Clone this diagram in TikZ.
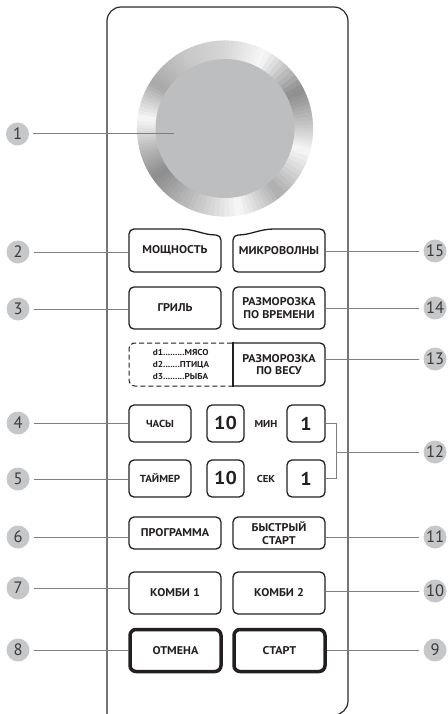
\documentclass[tikz,border=0pt]{standalone}
\usepackage{fontspec}
\setmainfont{PT Sans}
\newfontfamily\btnfont{PT Sans Bold}[FakeStretch=1.08]
\definecolor{ink}{HTML}{231F20}
\definecolor{panelc}{HTML}{2B2B2B}
\definecolor{leadc}{HTML}{7F7F7F}
\definecolor{lblfill}{HTML}{C6C7C9}
\definecolor{lbltxt}{HTML}{3A3A3A}
\definecolor{knobc}{HTML}{BDBEC0}
\tikzset{
  btn/.style={draw=ink, line width=1.3pt, rounded corners=5pt, text=ink,
    font=\btnfont\fontsize{11.2}{12.5}\selectfont, align=center, inner sep=0pt},
  narrowbtn/.style={btn, font=\btnfont\fontsize{10.2}{12}\selectfont},
  btnshape/.style={draw=ink, line width=1.3pt, rounded corners=5pt},
  btnbox/.style={btn, draw=none},
  bigbtn/.style={btn, line width=3.5pt, rounded corners=6pt},
  numbox/.style={btn, minimum width=37pt, minimum height=37pt,
    font=\btnfont\fontsize{18.5}{18}\selectfont},
  unitlbl/.style={text=ink, font=\btnfont\fontsize{10}{10}\selectfont, inner sep=0pt},
  lbl/.style={circle, fill=lblfill, minimum size=23pt, inner sep=0pt, text=lbltxt,
    font=\fontsize{16.5}{16}\selectfont},
  leader/.style={draw=leadc, line width=1pt},
  panel/.style={draw=panelc, line width=1.2pt},
  smalltxt/.style={text=ink, font=\btnfont\fontsize{8.6}{12}\selectfont, align=left, inner sep=0pt},
}
\begin{document}
\begin{tikzpicture}[x=1pt, y=-1pt]
\useasboundingbox (0,0) rectangle (447,714);
% panel
\draw[panel, rounded corners=14pt] (107,718) -- (107,7) -- (348,7) -- (348,715) -- (320,715);
% knob ring
\begin{scope}[shift={(225,128.5)}, yscale=-1]
  \foreach \a/\ga/\b/\gb in {0/80/27/55, 27/55/62/97, 62/97/90/84, 90/84/120/78,
     120/78/148/66, 148/66/173/97, 173/97/195/72, 195/72/215/55, 215/55/245/74,
     245/74/280/97, 280/97/310/68, 310/68/345/97, 345/97/360/80}{
    \foreach \i in {0,...,9}{
      \pgfmathsetmacro{\sa}{\a+(\b-\a)*\i/10}
      \pgfmathsetmacro{\ma}{\a+(\b-\a)*(\i+0.5)/10}
      \pgfmathsetmacro{\ea}{\a+(\b-\a)*(\i+1)/10+0.5}
      \pgfmathsetmacro{\gv}{\ga+(\gb-\ga)*(\i+0.5)/10}
      \fill[white!\gv!black] (\sa:88) -- (\ma:88.1) -- (\ea:88) -- (\ea:68) -- (\sa:68) -- cycle;
    }
  }
  \fill[knobc] (0,0) circle[radius=69.5];
\end{scope}
\coordinate (knobpt) at (174,134);
% buttons
\node[btnbox, minimum width=92pt, minimum height=43pt] (b2) at (175,250.5) {МОЩНОСТЬ};
\draw[btnshape] (129,250) -- (129,229) -- (175,229) .. controls (195,229) and (203,235) .. (221,235) -- (221,272) -- (129,272) -- cycle;
\node[btnbox, minimum width=92pt, minimum height=43pt] (b15) at (279,250.5) {МИКРОВОЛНЫ};
\draw[btnshape] (325,250) -- (325,229) -- (279,229) .. controls (259,229) and (251,235) .. (233,235) -- (233,272) -- (325,272) -- cycle;
\node[btn, minimum width=92pt, minimum height=42pt] (b3) at (175,308) {ГРИЛЬ};
\node[btn, minimum width=92pt, minimum height=42pt] (b14) at (279,308) {РАЗМОРОЗКА\\ПО ВРЕМЕНИ};
% defrost by weight
\node[btnbox, minimum width=92pt, minimum height=43pt] (b13) at (279,364.5) {РАЗМОРОЗКА\\ПО ВЕСУ};
\draw[btnshape] (233,343) -- (325,343) -- (325,386) -- (233,386);
\draw[draw=ink, line width=1.3pt, line cap=rect] (233,343) -- (233,386);
\draw[draw=ink, line width=1pt, dash pattern=on 5pt off 3pt, rounded corners=6pt] (232,343) -- (129,343) -- (129,386) -- (232,386);
\node[smalltxt] (wt) at (181,364) {d1.........МЯСО\\d2.......ПТИЦА\\d3.........РЫБА};
% clock / timer row
\node[narrowbtn, minimum width=62pt, minimum height=37pt] (b4) at (160,423.5) {ЧАСЫ};
\node[numbox] (m10) at (225.5,423.5) {10};
\node[unitlbl] (min) at (266,423.5) {МИН};
\node[numbox, minimum width=38pt] (m1) at (306,423.5) {1};
\node[narrowbtn, minimum width=62pt, minimum height=37pt] (b5) at (160,478.5) {ТАЙМЕР};
\node[numbox] (s10) at (225.5,478.5) {10};
\node[unitlbl] (sec) at (266,478.5) {СЕК};
\node[numbox, minimum width=38pt] (s1) at (306,478.5) {1};
% lower rows
\node[btn, minimum width=92pt, minimum height=32pt] (b6) at (175,533) {ПРОГРАММА};
\node[btn, minimum width=92pt, minimum height=32pt] (b11) at (279,533) {БЫСТРЫЙ\\СТАРТ};
\node[btn, minimum width=92pt, minimum height=42pt] (b7) at (175,593) {КОМБИ 1};
\node[btn, minimum width=92pt, minimum height=42pt] (b10) at (279,593) {КОМБИ 2};
\node[bigbtn, minimum width=91pt, minimum height=42pt] (b8) at (175.5,650.5) {ОТМЕНА};
\node[bigbtn, minimum width=91pt, minimum height=42pt] (b9) at (279.5,650.5) {СТАРТ};
% labels
\node[lbl] (n1) at (17.5,134) {1};
\node[lbl] (n2) at (18,252) {2};
\node[lbl] (n3) at (18,309) {3};
\node[lbl] (n4) at (18,423) {4};
\node[lbl] (n5) at (18,479) {5};
\node[lbl] (n6) at (18,537) {6};
\node[lbl] (n7) at (18,588) {7};
\node[lbl] (n8) at (18,650) {8};
\node[lbl] (n15) at (435,251) {15};
\node[lbl] (n14) at (435,308) {14};
\node[lbl] (n13) at (435,359) {13};
\node[lbl] (n12) at (435,452) {12};
\node[lbl] (n11) at (435,537) {11};
\node[lbl] (n10) at (435,591) {10};
\node[lbl] (n9) at (435,650) {9};
% leaders
\draw[leader] (n1.east) ++(4pt,0) -- (knobpt);
\foreach \n/\b in {2/b2, 3/b3, 4/b4, 5/b5, 6/b6, 7/b7, 8/b8}
  \draw[leader] ([xshift=4pt]n\n.east) -- (n\n -| \b.west);
\foreach \n/\b in {15/b15, 14/b14, 13/b13, 11/b11, 10/b10, 9/b9}
  \draw[leader] ([xshift=-4pt]n\n.west) -- (n\n -| \b.east);
\coordinate (brk) at (336,452);
\draw[leader] (m1.east) -| (brk);
\draw[leader] (s1.east) -| (brk);
\draw[leader] (brk) -- ([xshift=-4pt]n12.west);
\end{tikzpicture}
\end{document}
